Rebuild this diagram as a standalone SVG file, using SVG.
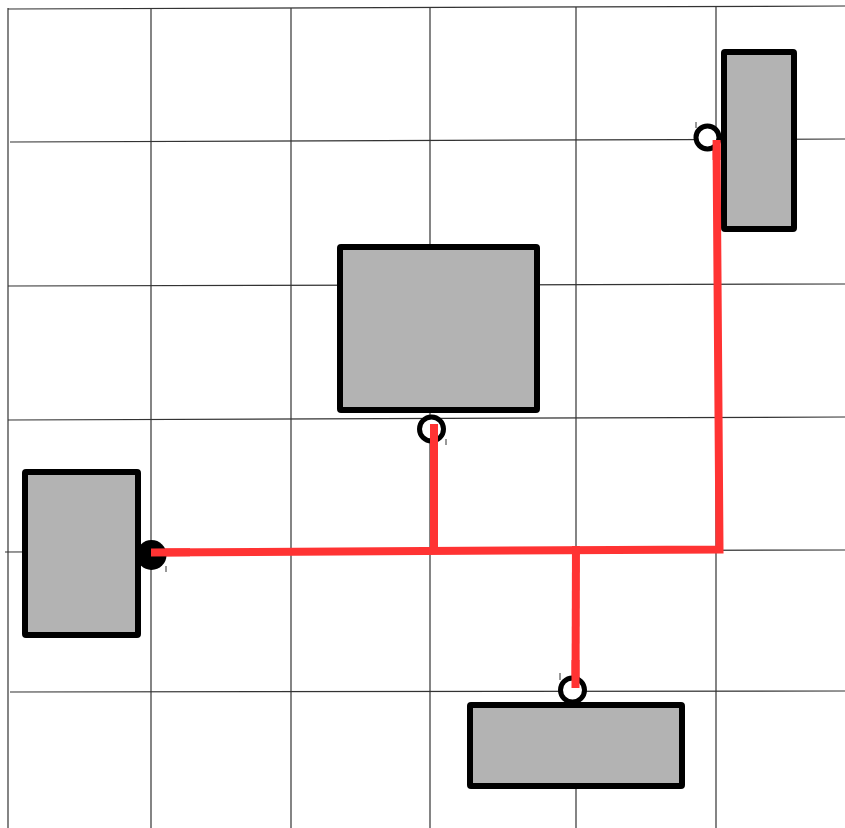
<svg xmlns="http://www.w3.org/2000/svg" width="845" height="828" viewBox="0 0 845 828">
<style>
.grid{stroke:#333;stroke-width:1.2;fill:none}
.box{fill:#b3b3b3;stroke:#000;stroke-width:6;stroke-linejoin:round}
.wire{stroke:#ff3333;stroke-width:8;fill:none;stroke-linecap:butt}
.port{fill:#fff;stroke:#000;stroke-width:5}
.tick{stroke:#333;stroke-width:1}
</style>
<rect width="845" height="828" fill="#fff"/>
<g id="grid">
<line class="grid" x1="8" y1="9" x2="845" y2="6"/>
<line class="grid" x1="10" y1="142" x2="845" y2="139"/>
<line class="grid" x1="8" y1="286" x2="845" y2="284"/>
<line class="grid" x1="8" y1="420" x2="845" y2="417"/>
<line class="grid" x1="5" y1="552" x2="845" y2="550"/>
<line class="grid" x1="10" y1="692" x2="845" y2="691"/>
<line class="grid" x1="8" y1="8" x2="8" y2="828"/>
<line class="grid" x1="151" y1="8" x2="151" y2="828"/>
<line class="grid" x1="291" y1="8" x2="291" y2="828"/>
<line class="grid" x1="430" y1="7" x2="430" y2="828"/>
<line class="grid" x1="576" y1="7" x2="576" y2="828"/>
<line class="grid" x1="716" y1="6" x2="716" y2="828"/>
</g>
<g id="node-topright"><rect class="box" x="724" y="52" width="70" height="177" rx="1"/></g>
<g id="node-center"><rect class="box" x="340" y="247" width="197" height="163" rx="1"/></g>
<g id="node-left"><rect class="box" x="25" y="472" width="113" height="163" rx="1"/></g>
<g id="node-bottom"><rect class="box" x="470" y="705" width="212" height="81" rx="1"/></g>
<g id="connectors">
<polyline class="wire" points="151,552.5 719.5,549.5 716.5,140"/>
<line class="wire" x1="434" y1="424" x2="434" y2="551"/>
<line class="wire" x1="576" y1="546" x2="575.5" y2="688"/>
</g>
<g id="ports">
<circle cx="151.5" cy="555" r="15" fill="#000"/>
<line class="wire" x1="151" y1="552.5" x2="190" y2="552.3"/>
<circle class="port" cx="707.5" cy="137.5" r="11.5"/>
<line class="wire" x1="716.6" y1="140" x2="716.6" y2="160"/>
<circle class="port" cx="431.5" cy="429" r="12"/>
<line class="wire" x1="434" y1="424" x2="434" y2="450"/>
<circle class="port" cx="572.5" cy="690" r="12"/>
<line class="wire" x1="575.5" y1="660" x2="575.5" y2="688"/>
<line class="tick" x1="696" y1="122" x2="696" y2="128"/>
<line class="tick" x1="446" y1="439" x2="446" y2="445"/>
<line class="tick" x1="166" y1="566" x2="166" y2="572"/>
<line class="tick" x1="560" y1="673" x2="560" y2="680"/>
</g>
</svg>
